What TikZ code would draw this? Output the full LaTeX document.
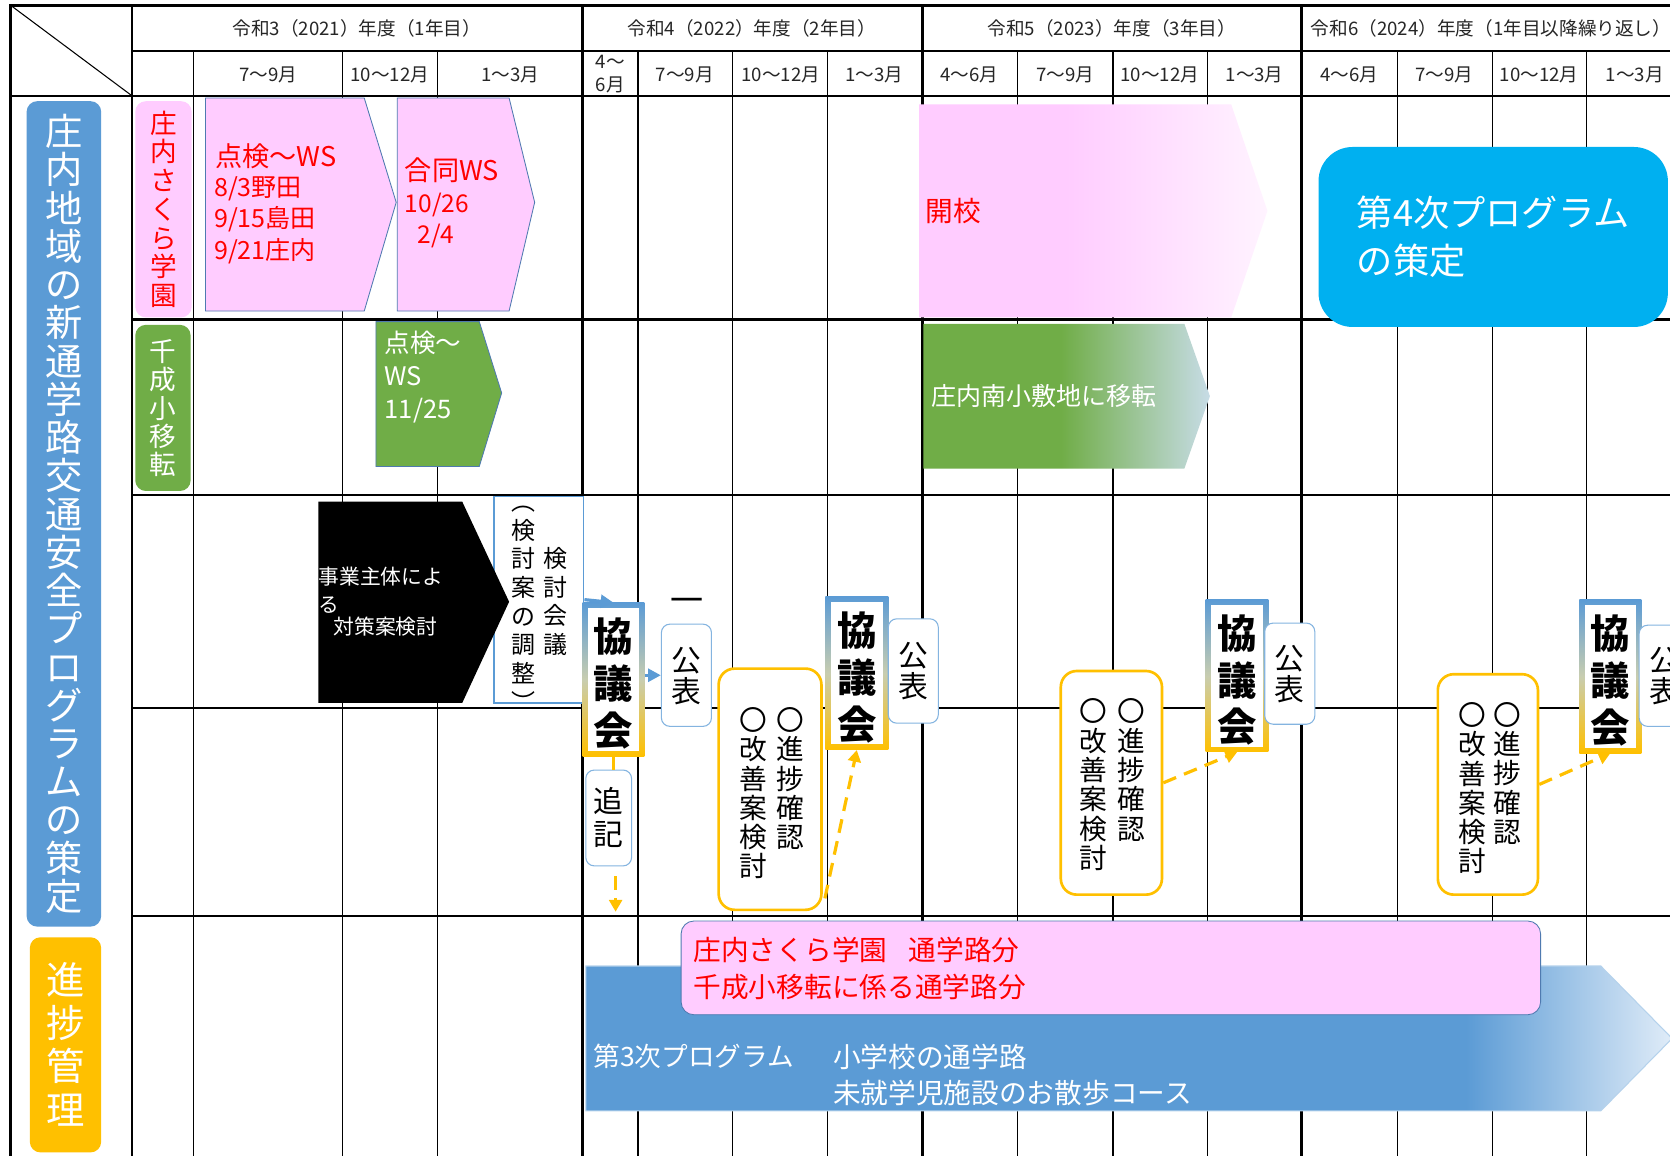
\documentclass[tikz,border=0pt]{standalone}
\usepackage{fontspec}
\setmainfont{Noto Sans CJK JP}
\usetikzlibrary{arrows.meta,calc}
\definecolor{pinkc}{HTML}{FFCCFF}
\definecolor{chevedge}{HTML}{4F7AB0}
\definecolor{greenc}{HTML}{70AD47}
\definecolor{bluec}{HTML}{5B9BD5}
\definecolor{yelc}{HTML}{FFC000}
\definecolor{cyanc}{HTML}{00B0F0}
\definecolor{fadegreen}{HTML}{C7DCE6}
\definecolor{fadeblue}{HTML}{E0ECF8}
\definecolor{fadepink}{HTML}{FFF3FF}
\definecolor{kmid}{HTML}{C8CDB0}
\definecolor{kohyoedge}{HTML}{84B4E0}
\definecolor{redt}{HTML}{FF0000}
\pgfdeclarehorizontalshading{kaikofade}{100bp}{color(0bp)=(pinkc); color(46bp)=(pinkc); color(75bp)=(fadepink); color(100bp)=(fadepink)}
\pgfdeclarehorizontalshading{greenfade}{100bp}{color(0bp)=(greenc); color(49bp)=(greenc); color(75bp)=(fadegreen); color(100bp)=(fadegreen)}
\pgfdeclarehorizontalshading{bluefade}{100bp}{color(0bp)=(bluec); color(65.5bp)=(bluec); color(75bp)=(fadeblue); color(100bp)=(fadeblue)}
\newcommand{\fsz}[2]{\fontsize{#1pt}{#2pt}\selectfont}
\newcommand{\mystrut}{\rule[-0.12em]{0pt}{1em}}
\newcommand{\kstrutA}{\rule{0pt}{40.6pt}}
\newcommand{\kstrutB}{\rule[-4.4pt]{0pt}{4.4pt}}
\begin{document}
\begin{tikzpicture}[x=1pt,y=-1pt,
  gthick/.style={line width=2.2pt, black},
  gthin/.style={line width=1pt, black},
  hdr/.style={font=\fsz{17.5}{21.5}, inner sep=0pt, text=black!85},
  vlab/.style={rounded corners=10pt, align=center, inner sep=0pt, text=white},
  chevtext/.style={anchor=west, inner sep=0pt},
  vtxt/.style={align=center, inner sep=0pt},
  pinkchev/.style={fill=pinkc, draw=chevedge, line width=0.8pt},
  kyogi/.style={top color=bluec, bottom color=yelc, middle color=kmid, inner sep=0pt, align=center,
    font=\bfseries\fsz{37}{44},
    path picture={\fill[white] ([shift={(5pt,5pt)}]path picture bounding box.south west) rectangle ([shift={(-5pt,-5pt)}]path picture bounding box.north east);}},
  kohyo/.style={draw=kohyoedge, line width=1pt, fill=white, rounded corners=8pt, inner sep=0pt, align=center, font=\fsz{28}{29}},
  shin/.style={draw=yelc, line width=2.5pt, fill=white, rounded corners=15pt, inner sep=0pt},
  bluearrow/.style={draw=bluec, line width=3pt, -{Triangle[length=12pt,width=12pt]}},
  yelline/.style={draw=yelc, line width=3pt},
  yeldash/.style={draw=yelc, line width=3pt, dash pattern=on 13pt off 8pt, -{Triangle[length=11pt,width=12pt]}}
]
\useasboundingbox (0,0) rectangle (1568,1085);
\fill[white] (0,0) rectangle (1568,1085);
\clip (0,0) rectangle (1568,1085);
% grid
\draw[gthick] (10,5) -- (1590,5);
\draw[gthick] (124,48) -- (1590,48);
\draw[gthick] (10,90) -- (1590,90);
\foreach \y in {300,465,665,860} \draw[gthick] (124,\y) -- (1590,\y);
\foreach \x in {10,124,547,866,1222} \draw[gthick] (\x,4) -- (\x,1090);
\foreach \x in {182,322,411,599,688,777,955,1045,1134,1312,1401,1490} \draw[gthin] (\x,48) -- (\x,1090);
\draw[gthin] (10,5) -- (124,90);
% headers
\node[hdr] (yr1) at (335,27) {令和3（2021）年度（1年目）};
\node[hdr] (yr2) at (706,27) {令和4（2022）年度（2年目）};
\node[hdr] (yr3) at (1044,27) {令和5（2023）年度（3年目）};
\node[hdr] (yr4) at (1400,27) {令和6（2024）年度（1年目以降繰り返し）};
\node[hdr] (m1) at (252,70) {7〜9月};
\node[hdr] (m2) at (366,70) {10〜12月};
\node[hdr] (m3) at (479,70) {1〜3月};
\node[hdr, align=left] (m4) at (573,69.75) {4〜\\6月};
\node[hdr] (m5) at (643,70) {7〜9月};
\node[hdr] (m6) at (733,70) {10〜12月};
\node[hdr] (m7) at (821,70) {1〜3月};
\node[hdr] (m8) at (910,70) {4〜6月};
\node[hdr] (m9) at (1000,70) {7〜9月};
\node[hdr] (m10) at (1089,70) {10〜12月};
\node[hdr] (m11) at (1178,70) {1〜3月};
\node[hdr] (m12) at (1267,70) {4〜6月};
\node[hdr] (m13) at (1356,70) {7〜9月};
\node[hdr] (m14) at (1445,70) {10〜12月};
\node[hdr] (m15) at (1535,70) {1〜3月};
% left labels
\node[vlab, fill=bluec, minimum width=70pt, minimum height=775pt, font=\fsz{35}{35.9}] (prog) at (60,482.5)
 {\mystrut 庄\\内\\地\\域\\の\\新\\通\\学\\路\\交\\通\\安\\全\\プ\\ロ\\グ\\ラ\\ム\\の\\策\\定\mystrut};
\node[vlab, fill=yelc, minimum width=67pt, minimum height=202pt, font=\fsz{36}{40.5}] (shinkan) at (61.5,981)
 {\mystrut 進\\捗\\管\\理\mystrut};
\node[vlab, fill=pinkc, text=redt, minimum width=53pt, minimum height=203pt, font=\fsz{25}{27}] (sakura) at (153.5,196.5)
 {\mystrut 庄\\内\\さ\\く\\ら\\学\\園\mystrut};
\node[vlab, fill=greenc, minimum width=52pt, minimum height=156pt, font=\fsz{25}{26.5}] (chitose) at (153,383)
 {\mystrut 千\\成\\小\\移\\転\mystrut};
% row 1
\path[pinkchev] (193,92) -- (342,92) -- (372,190) -- (342,292) -- (193,292) -- cycle;
\node[chevtext, text=redt, font=\fsz{25.5}{30}] (c1t) at (202,147) {点検〜WS};
\node[chevtext, text=redt, font=\fsz{23.5}{29.6}, align=left] (c1d) at (201,206.5) {8/3野田\\9/15島田\\9/21庄内};
\path[pinkchev] (373,92) -- (478,92) -- (502,190) -- (478,292) -- (373,292) -- cycle;
\node[chevtext, text=redt, font=\fsz{25.5}{30}] (c2t) at (380,160) {合同WS};
\node[chevtext, text=redt, font=\fsz{23}{30}, align=left] (c2d) at (380,207) {10/26\\\hspace*{12pt}2/4};
\shade[shading=kaikofade] (863,98) -- (1156,98) -- (1190,198) -- (1156,298) -- (863,298) -- cycle;
\node[chevtext, text=redt, font=\fsz{26}{30}] (kaiko) at (869,198) {開校};
\node[fill=cyanc, rounded corners=32pt, minimum width=328pt, minimum height=169pt, inner sep=0pt, text=white, align=left, font=\fsz{34}{45.5}] (dai4) at (1402,222.5) {第4次プログラム\\の策定};
% row 2
\path[fill=greenc, draw=chevedge, line width=0.8pt] (353,302) -- (450,302) -- (471,369) -- (450,438) -- (353,438) -- cycle;
\node[chevtext, text=white, font=\fsz{24}{31}, align=left] (c3t) at (361,354) {点検〜\\WS\\11/25};
\shade[shading=greenfade] (867,304) -- (1112,304) -- (1136,372) -- (1112,440) -- (867,440) -- cycle;
\node[chevtext, text=white, font=\fsz{23.5}{28}] (iten) at (874,372) {庄内南小敷地に移転};
% row 3-4
\node[draw=bluec, line width=1.5pt, fill=white, minimum width=84pt, minimum height=194pt, inner sep=0pt] (kentou) at (506,563) {};
\fill[black] (299,471) -- (434,471) -- (478,565) -- (434,660) -- (299,660) -- cycle;
\node[chevtext, text=white, font=\fsz{19.5}{26}, align=left] (jigyo) at (299,565) {事業主体によ\\る\\[-5pt]\hspace*{14pt}対策案検討};
\node[vtxt, font=\fsz{22.5}{26.9}] (kentouA) at (522,564.5) {\mystrut 検\\討\\会\\議\mystrut};
\node[vtxt, font=\fsz{22.5}{26.9}] (kentouB) at (491.5,565) {\mystrut ︵\\検\\討\\案\\の\\調\\整\\︶\mystrut};
\node[kyogi, minimum width=58pt, minimum height=144pt] (k1) at (576,638) {\kstrutA 協\\議\\会\kstrutB};
\node[kyogi, minimum width=59pt, minimum height=144pt] (k2) at (804.5,632) {\kstrutA 協\\議\\会\kstrutB};
\node[kyogi, minimum width=59pt, minimum height=143pt] (k3) at (1161.5,634.5) {\kstrutA 協\\議\\会\kstrutB};
\node[kyogi, minimum width=58pt, minimum height=144pt] (k4) at (1512,635) {\kstrutA 協\\議\\会\kstrutB};
\node[kohyo, minimum width=47pt, minimum height=96pt] (p1) at (644.5,634) {\mystrut 公\\表\mystrut};
\node[kohyo, minimum width=47pt, minimum height=98pt] (p2) at (857.5,630) {\mystrut 公\\表\mystrut};
\node[kohyo, minimum width=47pt, minimum height=95pt] (p3) at (1211,632.5) {\mystrut 公\\表\mystrut};
\node[kohyo, minimum width=47pt, minimum height=95pt] (p4) at (1562.5,634.5) {\mystrut 公\\表\mystrut};
\node[kohyo, minimum width=43pt, minimum height=90pt, font=\fsz{28}{31}] (tsuiki) at (571.5,768) {\mystrut 追\\記\mystrut};
\node[inner sep=0pt, font=\fsz{31}{31}] (dash1) at (645,568) {一};
\node[shin, minimum width=96.5pt, minimum height=226.5pt] (s1) at (723,741) {};
\node[vtxt, font=\fsz{26}{27.5}] (s1a) at (742,731) {\mystrut 〇\\進\\捗\\確\\認\mystrut};
\node[vtxt, font=\fsz{26}{27.5}] (s1b) at (707,744.75) {\mystrut 〇\\改\\善\\案\\検\\討\mystrut};
\node[shin, minimum width=95pt, minimum height=210pt] (s2) at (1043.5,735) {};
\node[vtxt, font=\fsz{26}{27.5}] (s2a) at (1062,723) {\mystrut 〇\\進\\捗\\確\\認\mystrut};
\node[vtxt, font=\fsz{26}{27.5}] (s2b) at (1027,736.75) {\mystrut 〇\\改\\善\\案\\検\\討\mystrut};
\node[shin, minimum width=94pt, minimum height=207pt] (s3) at (1397,736.5) {};
\node[vtxt, font=\fsz{26}{27.5}] (s3a) at (1415,726) {\mystrut 〇\\進\\捗\\確\\認\mystrut};
\node[vtxt, font=\fsz{26}{27.5}] (s3b) at (1382,740) {\mystrut 〇\\改\\善\\案\\検\\討\mystrut};
% row 5
\shadedraw[shading=bluefade, draw=bluec!45, line width=1pt] (550,907) -- (1503,907) -- (1570,975) -- (1503,1043) -- (550,1043) -- cycle;
\node[chevtext, text=white, font=\fsz{25}{34}] (dai3) at (557,992) {第3次プログラム};
\node[chevtext, text=white, font=\fsz{26}{34}, align=left] (dai3b) at (782,1009.5) {小学校の通学路\\未就学児施設のお散歩コース};
\node[fill=pinkc, draw=chevedge, line width=0.8pt, rounded corners=12pt, minimum width=807pt, minimum height=88pt, inner sep=0pt] (pinkbar) at (1043,908.75) {};
\node[chevtext, text=redt, font=\fsz{26}{34.6}, align=left] (pinktext) at (651,909.5) {庄内さくら学園\hspace{20pt}通学路分\\千成小移転に係る通学路分};
% connectors
\draw[bluearrow] (kentou.east) -- (k1.north);
\draw[bluearrow] (k1.east |- p1.west) -- (p1.west);
\draw[yelline] (k1.south) -- (k1.south |- tsuiki.north);
\coordinate (tend) at (578,856);
\draw[yeldash] ([xshift=6.5pt,yshift=-9pt]tsuiki.south) -- (tend);
\draw[yeldash] ([xshift=2pt,yshift=12pt]s1.south east) -- (k2.south);
\draw[yeldash] (s2.east) -- (k3.south);
\draw[yeldash] (s3.east) -- (k4.south);
\end{tikzpicture}
\end{document}
